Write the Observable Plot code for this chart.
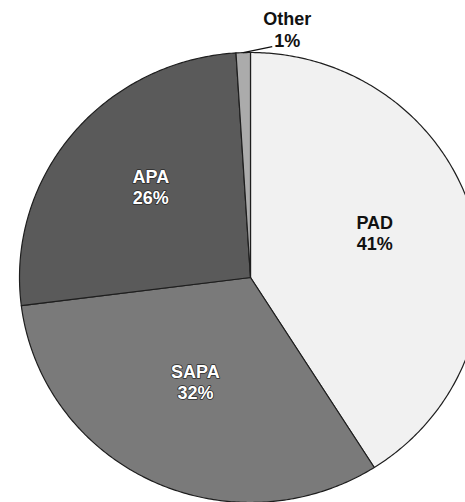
<!DOCTYPE html>
<html>
<head>
<meta charset="utf-8">
<script src="https://cdn.jsdelivr.net/npm/d3@7"></script>
<script src="https://cdn.jsdelivr.net/npm/@observablehq/plot@0.6"></script>
<style>
  html, body { margin: 0; padding: 0; background: #fff; overflow: hidden; }
  #chart svg { display: block; }
</style>
</head>
<body>
<div id="chart"></div>
<script>
// ---- data ----
const categories = ["PAD", "SAPA", "APA", "Other"];
const shares = [41, 32, 26, 1];
const shareLabels = ["41%", "32%", "26%", "1%"];

// ---- styles ----
const palette = ["#f1f1f1", "#7a7a7a", "#5a5a5a", "#ababab"];
const font = "'Liberation Sans', Arial, Helvetica, sans-serif";

// ---- build pie geometry from the data ----
const rows = categories.map((c, i) => ({category: c, share: shares[i], label: shareLabels[i]}));
const arcs = d3.pie().sort(null).value(d => d.share).startAngle(0).endAngle(2 * Math.PI)(rows);

const outline = [];
for (const a of arcs) {
  const n = Math.max(4, Math.ceil((a.endAngle - a.startAngle) / 0.01));
  outline.push({category: a.data.category, x: 0, y: 0});
  for (let k = 0; k <= n; ++k) {
    const t = a.startAngle + (a.endAngle - a.startAngle) * k / n;
    outline.push({category: a.data.category, x: Math.sin(t), y: Math.cos(t)});
  }
}

const labelR = 0.56;
const inside = arcs.filter(a => a.data.share >= 5).map(a => {
  const m = (a.startAngle + a.endAngle) / 2;
  const col = palette[categories.indexOf(a.data.category)];
  return {
    text: a.data.category + "\n" + a.data.label,
    x: labelR * Math.sin(m), y: labelR * Math.cos(m),
    dark: d3.lab(col).l < 60
  };
});

const small = arcs.filter(a => a.data.share < 5).map(a => {
  const m = (a.startAngle + a.endAngle) / 2;
  const x1 = Math.sin(m), y1 = Math.cos(m);
  return {text: a.data.category + "\n" + a.data.label, x1, y1, x2: x1 + 29 / 231, y2: y1 + 6 / 225};
});

const cx = 250, cy = 277, rx = 231, ry = 225;

const chart = Plot.plot({
  width: 465,
  height: 502,
  margin: 0,
  style: {fontFamily: font, background: "#fff", overflow: "hidden"},
  x: {type: "linear", domain: [-1, 1], range: [cx - rx, cx + rx], axis: null},
  y: {type: "linear", domain: [-1, 1], range: [cy + ry, cy - ry], axis: null},
  color: {domain: categories, range: palette},
  marks: [
    Plot.line(outline, {
      x: "x", y: "y", z: "category", fill: "category",
      stroke: "#1e1e1e", strokeWidth: 1.2, strokeLinejoin: "round",
      curve: "linear-closed"
    }),
    Plot.text(inside.filter(d => d.dark), {
      x: "x", y: "y", text: "text", dy: -10,
      fill: "#ffffff", stroke: "#2a2a2a", strokeWidth: 1.5, paintOrder: "stroke",
      fontSize: 18, fontWeight: "bold", lineHeight: 1.17, fontFamily: font
    }),
    Plot.text(inside.filter(d => !d.dark), {
      x: "x", y: "y", text: "text", dy: -10,
      fill: "#111", fontSize: 18, fontWeight: "bold", lineHeight: 1.17, fontFamily: font
    }),
    Plot.link(small, {
      x1: "x1", y1: "y1", x2: "x2", y2: "y2",
      stroke: "#111", strokeWidth: 1.3
    }),
    Plot.text(small, {
      x: "x2", y: "y2", text: "text", dx: 15, dy: 0,
      lineAnchor: "bottom", textAnchor: "middle",
      fill: "#111", fontSize: 18, fontWeight: "bold", lineHeight: 1.2, fontFamily: font
    })
  ]
});

document.getElementById("chart").appendChild(chart);
</script>
</body>
</html>
